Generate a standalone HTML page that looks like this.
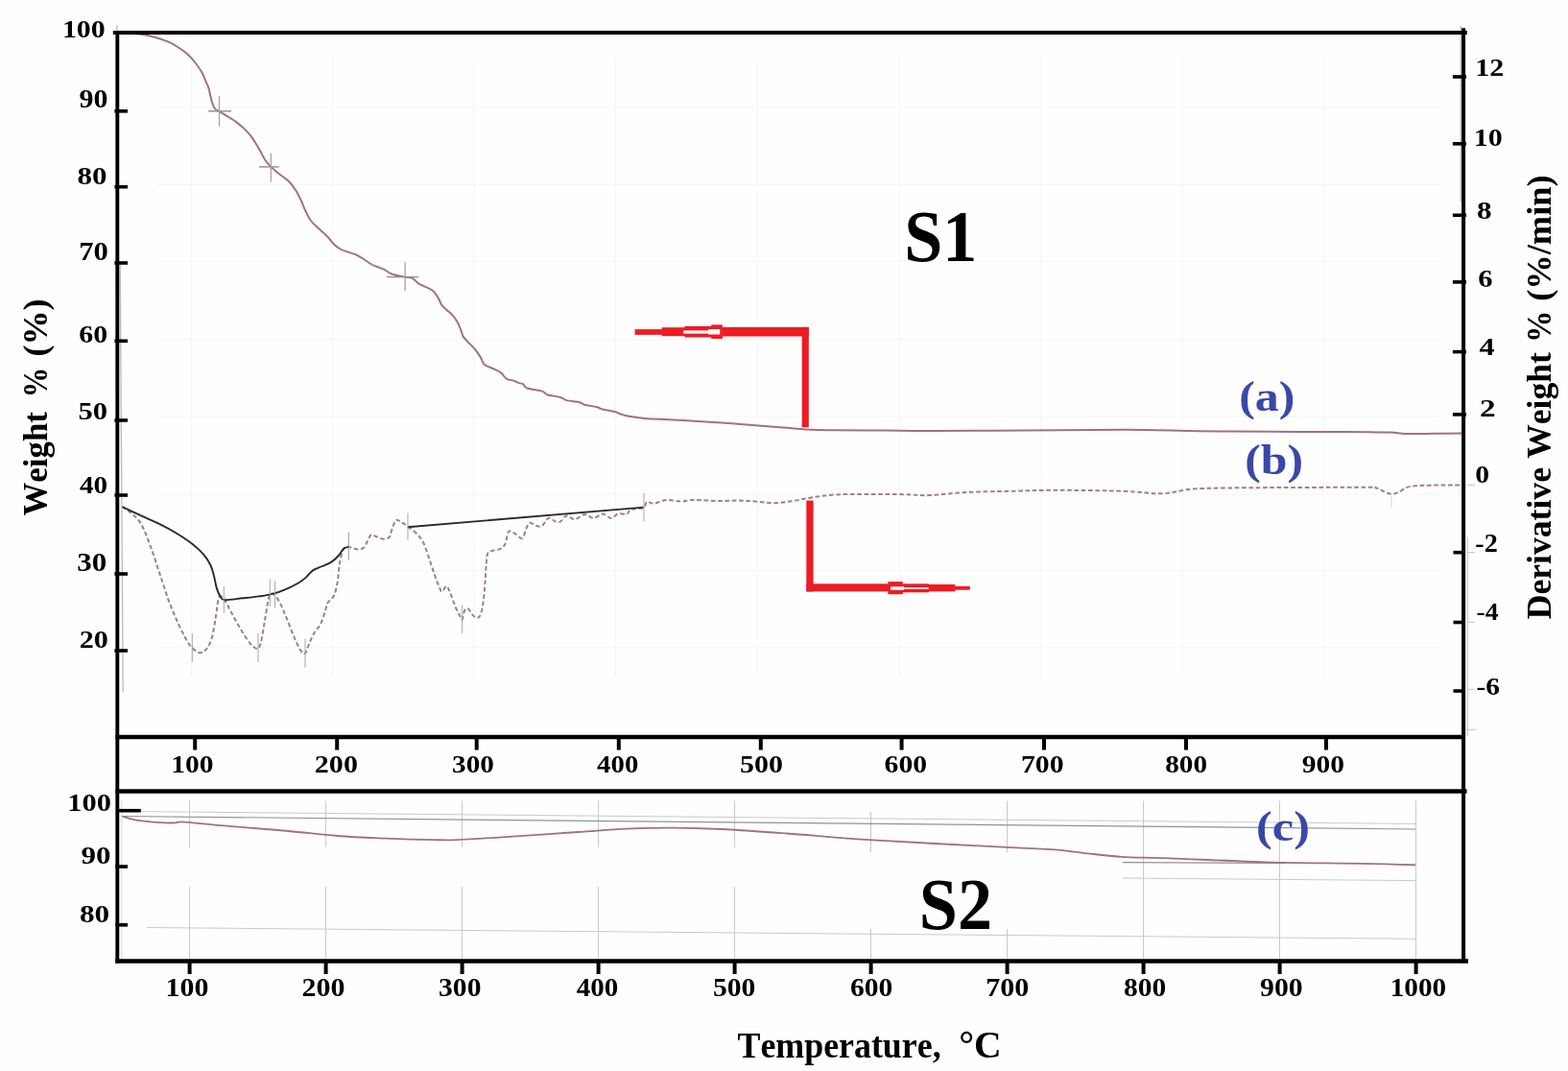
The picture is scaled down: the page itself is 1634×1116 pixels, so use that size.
<!DOCTYPE html>
<html lang="en"><head><meta charset="utf-8"><title>TGA / DTG curves of S1 and S2</title>
<style>html,body{margin:0;padding:0;background:#fff}body{width:1634px;height:1116px;overflow:hidden}svg{display:block}text{font-kerning:none;white-space:pre}</style></head><body>
<svg width="1634" height="1116" viewBox="0 0 1634 1116">
<rect width="1634" height="1116" fill="#fefefe"/>
<g stroke="#f5f5f7" stroke-width="1" fill="none">
<path d="M199.5 60V706"/>
<path d="M347 60V706"/>
<path d="M494 60V706"/>
<path d="M641.5 60V706"/>
<path d="M789.4 60V706"/>
<path d="M936.9 60V706"/>
<path d="M1084.4 60V706"/>
<path d="M1231.9 60V706"/>
<path d="M1379.4 60V706"/>
<path d="M165 112H1500"/>
<path d="M165 192.5H1500"/>
<path d="M165 272.2H1500"/>
<path d="M165 353.9H1500"/>
<path d="M165 434.3H1500"/>
<path d="M165 515.2H1500"/>
<path d="M165 594.7H1500"/>
<path d="M165 674.2H1500"/>
</g>
<g stroke="#c6cace" stroke-width="1" fill="none">
<path d="M197.5 834.5V882.5M197.5 924V999"/>
<path d="M339.5 834.5V882.5M339.5 924V999"/>
<path d="M481.5 834.5V882.5M481.5 924V999"/>
<path d="M623.5 834.5V882.5M623.5 924V999"/>
<path d="M765.5 834.5V882.5M765.5 924V999"/>
<path d="M907.5 846V888.4M907.5 968V999"/>
<path d="M1049.5 834.5V888.4M1049.5 968V999"/>
<path d="M1191.5 834.5V999"/>
<path d="M1333.5 834.5V999"/>
<path d="M1475.5 834.5V999"/>
<path stroke="#d6d8db" d="M126.8 834.5V999"/>
<path d="M153 966.5L1475 978.3"/>
<path d="M1170 915L1475 917.6"/>
<path d="M146.5 845.6L1475 858.4"/>
</g>
<g stroke="#8f9297" stroke-width="1.2" fill="none">
<path d="M127 850.5L1475 864"/>
<path d="M1169.8 898.6L1340 899.4"/>
</g>
<g fill="none" stroke="#a27279" stroke-linejoin="round">
<path stroke-width="2" d="M124.0 34.6C126.2 34.7 132.6 34.7 137.0 35.0C141.4 35.3 146.2 35.6 150.5 36.3C154.8 37.0 158.8 38.0 163.0 39.2C167.2 40.4 171.8 42.0 175.6 43.7C179.4 45.4 182.7 47.3 186.0 49.5C189.3 51.7 192.7 54.0 195.7 56.8C198.7 59.5 201.5 62.8 204.0 66.0C206.5 69.2 208.9 72.7 210.7 76.0C212.5 79.3 213.8 83.2 215.0 86.0C216.2 88.8 216.7 89.2 217.6 92.5C218.5 95.8 219.7 102.3 220.7 105.7C221.7 109.1 222.5 111.2 223.8 113.0C225.1 114.8 226.2 114.8 228.5 116.2C230.8 117.6 234.8 119.9 237.6 121.6C240.4 123.3 243.4 125.1 245.5 126.6C247.6 128.1 248.3 128.7 250.2 130.4C252.1 132.1 254.9 134.4 257.0 136.6C259.1 138.8 260.9 140.9 262.7 143.3C264.4 145.7 265.9 148.4 267.5 151.0C269.1 153.6 270.6 156.3 272.1 159.0C273.6 161.7 274.8 164.5 276.5 167.0C278.2 169.5 280.1 171.7 282.3 173.9C284.6 176.2 286.9 178.0 290.0 180.5C293.1 183.0 298.0 186.1 301.0 189.0C304.0 191.9 305.9 194.8 308.0 198.0C310.1 201.2 311.9 205.0 313.6 208.5C315.3 212.0 316.3 215.5 318.0 219.0C319.7 222.5 321.3 226.3 323.6 229.5C325.9 232.7 329.1 235.2 332.0 238.0C334.9 240.8 338.7 243.9 341.2 246.5C343.7 249.1 344.9 251.4 347.0 253.5C349.1 255.6 351.2 257.5 353.7 259.0C356.2 260.5 359.1 261.3 362.0 262.4C364.9 263.5 368.5 264.3 371.3 265.6C374.1 266.9 376.5 268.4 379.0 270.0C381.5 271.6 384.1 273.7 386.4 275.0C388.7 276.3 390.7 277.1 393.0 278.0C395.3 278.9 397.4 279.4 400.0 280.7C402.6 282.0 405.1 284.4 408.8 285.7C412.5 287.0 418.4 287.9 422.0 288.6C425.6 289.3 427.7 288.9 430.1 290.1C432.5 291.3 434.1 294.2 436.4 295.7C438.7 297.2 441.4 297.9 443.9 299.1C446.4 300.4 449.3 301.4 451.4 303.2C453.5 305.0 455.0 307.8 456.5 310.2C458.0 312.6 458.8 315.6 460.2 317.7C461.6 319.8 463.3 320.9 465.2 322.7C467.1 324.5 469.6 326.2 471.5 328.3C473.4 330.4 475.0 332.6 476.5 335.2C478.0 337.8 479.2 341.4 480.3 344.0C481.4 346.6 481.6 348.8 482.8 350.9C484.1 353.0 485.9 354.6 487.8 356.6C489.7 358.6 492.0 360.3 494.1 362.8C496.2 365.3 498.7 368.9 500.4 371.6C502.1 374.3 502.9 377.5 504.1 379.2C505.4 380.9 506.0 380.8 507.9 381.7C509.8 382.6 513.0 383.6 515.4 384.8C517.8 386.0 520.2 386.9 522.3 388.6C524.4 390.3 525.8 393.5 528.0 394.8C530.2 396.1 533.5 396.0 535.5 396.7C537.5 397.4 538.4 398.3 540.0 398.9C541.6 399.5 543.4 399.3 545.0 400.2C546.6 401.1 546.0 403.2 549.4 404.5C552.8 405.8 561.6 406.6 565.1 407.7C568.6 408.8 567.0 410.1 570.1 411.2C573.2 412.2 580.5 413.0 583.9 414.0C587.2 415.0 586.9 416.2 590.2 417.1C593.6 418.0 600.9 418.4 604.0 419.2C607.1 420.0 606.1 420.9 609.0 421.7C611.9 422.5 618.5 423.2 621.6 424.0C624.7 424.8 624.7 425.7 627.8 426.5C630.9 427.3 637.2 428.2 640.4 429.0C643.5 429.8 644.2 430.7 646.7 431.5C649.2 432.3 651.2 433.1 655.4 433.8C659.6 434.5 664.8 435.3 671.7 435.9C678.6 436.5 687.5 436.7 696.8 437.2C706.1 437.7 718.4 438.4 727.6 439.0C736.8 439.6 743.6 440.0 752.0 440.6C760.4 441.2 769.7 441.8 777.7 442.4C785.7 443.0 793.0 443.6 800.0 444.2C807.0 444.8 813.3 445.3 820.0 445.8C826.7 446.3 831.7 447.0 840.0 447.4C848.3 447.8 856.7 448.0 870.0 448.2C883.3 448.4 903.2 448.5 920.0 448.6C936.8 448.7 945.5 449.0 970.5 449.0C995.5 449.0 1036.6 448.7 1070.0 448.5C1103.4 448.3 1141.0 447.7 1171.0 447.8C1201.0 447.9 1224.9 448.9 1250.0 449.2C1275.1 449.5 1296.8 449.7 1321.8 449.8C1346.8 449.9 1379.1 449.9 1400.0 450.0C1420.9 450.1 1435.8 450.3 1447.0 450.6C1458.2 450.9 1459.0 451.8 1467.0 452.0C1475.0 452.2 1485.7 451.9 1495.0 451.8C1504.3 451.7 1518.3 451.5 1523.0 451.4"/>
<path stroke="#a07f86" stroke-width="2" stroke-dasharray="4.6 2.7" d="M126.9 527.9C128.8 529.2 134.8 532.6 138.2 535.8C141.6 539.0 144.5 541.4 147.6 547.0C150.7 552.6 153.8 561.1 157.0 569.6C160.2 578.1 163.3 588.5 166.5 597.9C169.7 607.3 172.8 617.6 175.9 626.1C179.0 634.6 182.2 641.8 185.3 648.7C188.4 655.6 192.2 663.1 194.7 667.5C197.2 671.9 198.1 672.9 200.3 675.0C202.5 677.1 205.4 680.1 207.9 680.3C210.4 680.5 213.2 678.8 215.4 676.0C217.6 673.2 219.4 669.2 221.0 663.7C222.6 658.2 223.7 649.6 224.8 643.0C225.9 636.4 226.7 627.8 227.6 624.2C228.5 620.6 229.4 621.2 230.5 621.4C231.6 621.6 232.3 622.2 234.2 625.2C236.1 628.2 238.9 634.1 241.7 639.3C244.5 644.5 248.0 651.0 251.2 656.2C254.3 661.4 257.8 667.0 260.6 670.3C263.4 673.6 266.2 676.1 268.1 676.0C270.0 675.9 270.6 673.9 271.9 669.4C273.1 664.9 274.4 655.9 275.6 648.7C276.9 641.5 278.3 631.1 279.4 626.1C280.5 621.1 280.9 619.5 282.2 618.6C283.4 617.7 285.2 618.6 286.9 620.5C288.6 622.4 290.7 626.1 292.6 629.9C294.5 633.6 296.0 637.7 298.2 643.0C300.4 648.3 303.2 656.1 305.7 661.9C308.2 667.7 311.2 674.8 313.3 677.9C315.4 681.0 316.4 682.1 318.0 680.7C319.6 679.3 321.0 673.2 322.7 669.4C324.4 665.6 326.4 661.2 328.3 658.1C330.2 655.0 332.3 654.1 334.0 650.6C335.7 647.1 337.4 641.2 338.7 637.4C339.9 633.6 339.9 630.8 341.5 628.0C343.1 625.2 346.4 624.3 348.1 620.5C349.8 616.7 351.0 610.7 351.9 605.4C352.8 600.1 352.9 593.5 353.7 588.5C354.5 583.5 355.5 578.4 356.6 575.3C357.7 572.1 358.7 570.4 360.3 569.6C361.9 568.8 363.8 570.1 366.0 570.6C368.2 571.1 371.3 572.5 373.5 572.5C375.7 572.5 377.6 572.0 379.2 570.6C380.8 569.2 381.6 566.2 382.9 564.0C384.1 561.8 385.1 558.2 386.7 557.4C388.3 556.6 390.1 558.6 392.3 559.3C394.5 560.0 397.6 561.7 399.9 561.7C402.2 561.7 404.7 560.9 406.0 559.5C407.3 558.1 406.8 556.3 407.9 553.4C409.0 550.5 410.9 543.7 412.6 542.1C414.3 540.5 416.2 542.9 418.2 544.0C420.2 545.1 422.3 546.8 424.8 548.7C427.3 550.6 430.6 552.6 433.3 555.3C436.0 558.0 438.6 560.6 440.8 564.7C443.0 568.8 444.6 574.5 446.5 579.8C448.4 585.1 450.2 591.4 452.1 596.7C454.0 602.0 456.4 608.5 457.8 611.8C459.2 615.1 459.4 616.7 460.6 616.5C461.9 616.3 463.9 610.6 465.3 610.8C466.7 610.9 467.4 613.8 469.0 617.4C470.6 621.0 473.0 628.4 474.7 632.5C476.4 636.6 478.2 639.7 479.4 641.9C480.6 644.1 480.9 646.5 481.7 645.6C482.5 644.7 483.1 638.1 484.1 636.2C485.1 634.3 486.5 633.5 487.9 634.3C489.3 635.1 491.0 639.3 492.6 640.9C494.2 642.5 495.9 643.9 497.3 643.8C498.7 643.6 499.9 643.1 501.0 640.0C502.1 636.9 503.1 631.2 503.9 624.9C504.7 618.6 505.3 609.2 505.8 602.3C506.3 595.4 506.6 587.9 507.1 583.5C507.6 579.1 507.4 577.7 508.6 576.0C509.8 574.3 512.0 574.2 514.2 573.5C516.4 572.8 519.8 572.9 521.8 571.8C523.8 570.6 525.1 569.6 526.5 566.6C527.9 563.6 528.5 555.5 530.2 553.8C531.9 552.1 534.4 555.0 536.8 556.2C539.1 557.4 542.4 561.7 544.3 560.9C546.2 560.1 546.8 554.2 548.1 551.5C549.4 548.8 550.0 545.5 551.9 544.9C553.8 544.3 557.2 547.6 559.4 548.1C561.6 548.6 563.0 549.2 565.0 547.8C567.0 546.4 569.4 540.7 571.6 539.9C573.8 539.1 576.2 542.5 578.2 543.1C580.2 543.7 581.9 544.6 583.9 543.6C585.9 542.6 587.9 537.8 590.4 537.4C592.9 537.0 595.8 541.4 598.9 541.2C602.0 541.0 606.0 536.3 609.3 536.1C612.6 535.9 615.6 540.0 618.7 539.9C621.8 539.8 625.1 535.5 628.1 535.5C631.1 535.5 633.9 539.9 636.6 539.9C639.3 539.9 641.3 536.2 644.1 535.5C646.9 534.8 651.3 536.3 653.5 535.5C655.7 534.7 654.5 531.8 657.3 530.8C660.1 529.8 667.6 530.6 670.4 529.3C673.2 528.0 672.3 523.6 674.2 522.9C676.1 522.1 678.4 525.1 681.7 524.8C685.0 524.5 689.5 521.4 694.2 521.0C698.9 520.6 705.2 522.5 710.0 522.5C714.8 522.5 716.7 521.1 723.2 521.0C729.7 520.9 741.2 521.9 749.0 522.0C756.8 522.1 763.5 521.4 770.0 521.5C776.5 521.6 781.5 522.1 787.7 522.6C793.9 523.1 800.5 524.3 807.0 524.2C813.5 524.1 820.0 523.0 826.5 522.0C833.0 521.0 838.3 519.5 845.8 518.4C853.3 517.3 861.7 516.0 871.6 515.4C881.5 514.8 893.2 515.0 905.0 515.0C916.8 515.0 932.0 515.0 942.6 515.2C953.2 515.4 957.7 516.5 968.4 516.1C979.1 515.7 991.7 513.8 1007.0 513.0C1022.3 512.2 1044.3 512.0 1060.0 511.6C1075.7 511.2 1082.5 510.8 1101.0 510.8C1119.5 510.8 1152.6 511.2 1171.0 511.8C1189.4 512.4 1198.8 514.7 1211.4 514.3C1224.0 513.9 1228.1 510.3 1246.5 509.3C1264.9 508.3 1292.5 508.4 1321.8 508.1C1351.0 507.9 1403.3 507.8 1422.0 507.8C1440.7 507.9 1430.7 507.7 1434.0 508.4C1437.3 509.1 1439.3 510.9 1442.0 512.0C1444.7 513.1 1447.3 514.7 1450.0 514.8C1452.7 514.9 1455.3 513.8 1458.0 512.6C1460.7 511.4 1463.2 508.9 1466.0 507.8C1468.8 506.8 1471.0 506.7 1475.0 506.3C1479.0 505.9 1482.1 505.9 1490.0 505.7C1497.9 505.5 1517.1 505.4 1522.5 505.4"/>
<path stroke-width="1.8" d="M127.2 850.5C129.4 851.1 134.5 853.2 140.5 854.3C146.5 855.3 156.4 856.3 163.1 856.8C169.8 857.3 176.5 857.6 180.7 857.5C184.9 857.4 184.8 856.3 188.2 856.3C191.5 856.3 194.5 856.7 200.8 857.3C207.1 857.9 217.4 859.0 225.8 859.8C234.2 860.5 238.5 860.8 251.0 861.8C263.5 862.8 284.3 864.5 301.0 866.0C317.7 867.5 334.6 869.7 351.3 871.0C368.0 872.3 384.7 872.9 401.4 873.6C418.1 874.3 439.1 874.9 451.6 875.1C464.2 875.4 464.1 875.6 476.7 875.1C489.2 874.6 506.0 873.5 526.9 872.1C547.8 870.8 581.1 868.4 602.0 867.0C622.9 865.6 635.5 864.3 652.3 863.6C669.0 862.9 685.8 862.5 702.5 862.6C719.2 862.7 733.0 863.0 752.6 864.0C772.2 865.0 793.8 866.6 820.0 868.5C846.2 870.4 871.5 873.0 909.7 875.4C947.9 877.8 1017.5 881.2 1049.0 882.9C1080.5 884.6 1085.7 884.4 1099.0 885.4C1112.3 886.4 1117.4 887.6 1129.0 888.8C1140.6 890.0 1153.9 891.9 1168.8 892.8C1183.7 893.7 1193.7 893.4 1218.6 894.3C1243.5 895.2 1284.8 897.4 1318.0 898.3C1351.2 899.2 1391.8 899.3 1418.0 899.8C1444.2 900.3 1465.5 901.0 1475.0 901.3"/>
</g>
<g fill="none" stroke="#2a2a2c" stroke-width="1.9">
<path d="M126.9 527.9C130.3 529.5 141.0 534.6 147.6 537.6C154.2 540.6 160.2 543.0 166.5 546.1C172.8 549.2 179.7 553.0 185.3 556.5C190.9 560.0 195.9 563.3 200.3 566.8C204.7 570.2 208.4 573.6 211.6 577.2C214.8 580.8 217.3 584.7 219.2 588.5C221.1 592.3 221.8 595.7 222.9 599.8C224.0 603.9 224.7 609.3 225.8 612.9C226.9 616.5 228.1 619.3 229.5 621.4C230.9 623.5 230.3 624.9 234.2 625.2C238.1 625.5 247.0 623.9 253.0 623.3C259.0 622.7 264.7 622.2 270.0 621.4C275.3 620.6 280.3 619.9 285.0 618.6C289.7 617.4 293.8 615.8 298.2 613.9C302.6 612.0 307.9 609.3 311.4 607.3C314.8 605.2 316.4 603.8 318.9 601.6C321.4 599.4 323.6 596.0 326.4 594.1C329.2 592.2 332.8 591.4 335.9 590.0C339.0 588.6 342.5 587.4 345.3 585.6C348.1 583.8 350.6 581.4 352.8 579.0C355.0 576.6 356.7 573.0 358.4 571.5C360.1 570.0 362.4 570.2 363.2 570.0"/>
<path d="M424.8 549.3L671 528.6"/>
</g>
<g stroke="#a9a3a6" stroke-width="1" fill="none">
<path d="M200.3 660V690"/>
<path d="M233.3 611V639"/>
<path d="M269 660V690"/>
<path d="M281.3 603.5V631.8"/>
<path d="M286.6 605.4V633.6"/>
<path d="M318 665.6V695.7"/>
<path d="M363.5 554.6V583.8"/>
<path d="M425 534.6V562.8"/>
<path d="M481.7 630.6V659.7"/>
<path d="M671 513.9V543"/>
<path stroke="#8e8a8c" stroke-width="1.4" d="M217.2 115.8H241"/><path stroke-width="1.3" d="M228.5 100.3V131.6"/>
<path stroke="#8e8a8c" stroke-width="1.4" d="M270 173.9H290.7"/><path stroke-width="1.3" d="M282.3 159.4V189.5"/>
<path stroke="#8e8a8c" stroke-width="1.4" d="M403.1 288.6H436"/><path stroke-width="1.3" d="M422.2 273.1V303.3"/>
<path stroke="#bcbcbe" stroke-width="1.3" d="M125.2 275L128.2 721"/>
<path stroke="#d9d3d5" d="M1450 517V529"/>
<path d="M121.8 26.5V32"/>
<path stroke="#b9b9bb" stroke-width="1.2" d="M1522.2 27V210"/>
<path stroke="#c6c6c8" stroke-width="1" d="M1529.4 560V767M1529 648.5H1537M1529 718.3H1536M1527 760.2H1538M1529 575.5H1537M1529 505.4H1537"/>
</g>
<g fill="#ed1c24">
<rect x="752.80" y="340.90" width="90.00" height="9.60" fill="#ed1c24"/>
<rect x="835.70" y="340.90" width="7.10" height="104.40" fill="#ed1c24"/>
<rect x="741.20" y="338.40" width="11.70" height="14.60" fill="#ed1c24"/>
<rect x="713.50" y="339.90" width="28.50" height="11.60" fill="#ed1c24"/>
<rect x="689.80" y="341.20" width="24.50" height="9.00" fill="#ed1c24"/>
<rect x="661.60" y="343.10" width="28.40" height="5.80" fill="#ed1c24"/>
<rect x="738.00" y="343.10" width="12.20" height="5.40" fill="#fff"/>
<rect x="712.30" y="344.40" width="26.70" height="3.20" fill="#fff"/>
<rect x="840.30" y="521.60" width="7.30" height="94.80" fill="#ed1c24"/>
<rect x="840.30" y="608.30" width="86.40" height="8.10" fill="#ed1c24"/>
<rect x="925.40" y="606.10" width="15.40" height="13.10" fill="#ed1c24"/>
<rect x="940.00" y="608.30" width="28.00" height="9.00" fill="#ed1c24"/>
<rect x="967.80" y="609.00" width="27.60" height="7.40" fill="#ed1c24"/>
<rect x="992.90" y="610.90" width="17.90" height="3.80" fill="#ed1c24"/>
<rect x="928.00" y="611.30" width="14.00" height="3.40" fill="#fff"/>
<rect x="941.40" y="612.20" width="26.40" height="1.60" fill="#fff"/>
</g>
<g stroke="#000" fill="none">
<line x1="122.3" y1="32" x2="122.3" y2="1003.5" stroke="#000" stroke-width="3.9" />
<line x1="117.8" y1="34" x2="1528.8" y2="34" stroke="#000" stroke-width="4.1" />
<line x1="1525.1" y1="29.3" x2="1525.1" y2="1003.5" stroke="#000" stroke-width="4.0" />
<line x1="120.4" y1="768" x2="1526.5" y2="768" stroke="#000" stroke-width="4.5" />
<line x1="120.4" y1="824.5" x2="1528.5" y2="824.5" stroke="#000" stroke-width="4.5" />
<line x1="120.3" y1="1001.6" x2="1530" y2="1001.6" stroke="#000" stroke-width="4.5" />
<line x1="119.4" y1="115.8" x2="133" y2="115.8" stroke="#000" stroke-width="3.6" />
<line x1="119.4" y1="194.7" x2="133" y2="194.7" stroke="#000" stroke-width="3.6" />
<line x1="119.4" y1="274" x2="133" y2="274" stroke="#000" stroke-width="3.6" />
<line x1="119.4" y1="355.3" x2="133" y2="355.3" stroke="#000" stroke-width="3.6" />
<line x1="119.4" y1="438" x2="133" y2="438" stroke="#000" stroke-width="3.6" />
<line x1="119.4" y1="516" x2="133" y2="516" stroke="#000" stroke-width="3.6" />
<line x1="119.4" y1="598" x2="133" y2="598" stroke="#000" stroke-width="3.6" />
<line x1="119.4" y1="678" x2="133" y2="678" stroke="#000" stroke-width="3.6" />
<line x1="120.4" y1="903.0" x2="133" y2="903.0" stroke="#000" stroke-width="3.6" />
<line x1="120.4" y1="963.8" x2="133" y2="963.8" stroke="#000" stroke-width="3.6" />
<line x1="122" y1="844.7" x2="146.8" y2="844.7" stroke="#000" stroke-width="3.6" />
<line x1="1513.9" y1="80" x2="1528" y2="80" stroke="#000" stroke-width="3.6" />
<line x1="1513.9" y1="149.8" x2="1528" y2="149.8" stroke="#000" stroke-width="3.6" />
<line x1="1513.9" y1="224.3" x2="1528" y2="224.3" stroke="#000" stroke-width="3.6" />
<line x1="1513.9" y1="293.9" x2="1528" y2="293.9" stroke="#000" stroke-width="3.6" />
<line x1="1513.9" y1="366.6" x2="1528" y2="366.6" stroke="#000" stroke-width="3.6" />
<line x1="1513.9" y1="431.9" x2="1528" y2="431.9" stroke="#000" stroke-width="3.6" />
<line x1="1514.5" y1="575.7" x2="1526" y2="575.7" stroke="#000" stroke-width="3.6" />
<line x1="1514.5" y1="648.5" x2="1526" y2="648.5" stroke="#000" stroke-width="3.6" />
<line x1="1514.5" y1="720" x2="1526" y2="720" stroke="#000" stroke-width="3.6" />
<line x1="203.2" y1="768" x2="203.2" y2="781.5" stroke="#000" stroke-width="4" />
<line x1="351.2" y1="768" x2="351.2" y2="781.5" stroke="#000" stroke-width="4" />
<line x1="496.7" y1="768" x2="496.7" y2="781.5" stroke="#000" stroke-width="4" />
<line x1="644.8" y1="768" x2="644.8" y2="781.5" stroke="#000" stroke-width="4" />
<line x1="792.8" y1="768" x2="792.8" y2="781.5" stroke="#000" stroke-width="4" />
<line x1="939.6" y1="768" x2="939.6" y2="781.5" stroke="#000" stroke-width="4" />
<line x1="1088" y1="768" x2="1088" y2="781.5" stroke="#000" stroke-width="4" />
<line x1="1236" y1="768" x2="1236" y2="781.5" stroke="#000" stroke-width="4" />
<line x1="1382" y1="768" x2="1382" y2="781.5" stroke="#000" stroke-width="4" />
<line x1="197.6" y1="1001" x2="197.6" y2="1015" stroke="#000" stroke-width="4" />
<line x1="339.6" y1="1001" x2="339.6" y2="1015" stroke="#000" stroke-width="4" />
<line x1="481.6" y1="1001" x2="481.6" y2="1015" stroke="#000" stroke-width="4" />
<line x1="623.6" y1="1001" x2="623.6" y2="1015" stroke="#000" stroke-width="4" />
<line x1="765.6" y1="1001" x2="765.6" y2="1015" stroke="#000" stroke-width="4" />
<line x1="907.6" y1="1001" x2="907.6" y2="1015" stroke="#000" stroke-width="4" />
<line x1="1049.6" y1="1001" x2="1049.6" y2="1015" stroke="#000" stroke-width="4" />
<line x1="1191.6" y1="1001" x2="1191.6" y2="1015" stroke="#000" stroke-width="4" />
<line x1="1333.6" y1="1001" x2="1333.6" y2="1015" stroke="#000" stroke-width="4" />
<line x1="1475.6" y1="1001" x2="1475.6" y2="1015" stroke="#000" stroke-width="4" />
</g>
<text transform="translate(64.91 38.74) scale(1.1395 1)" font-size="26.23" fill="#000" font-family="'Liberation Serif', serif" font-weight="bold" >100</text>
<text transform="translate(82.48 111.94) scale(1.1358 1)" font-size="26.38" fill="#000" font-family="'Liberation Serif', serif" font-weight="bold" >90</text>
<text transform="translate(80.57 192.45) scale(1.2310 1)" font-size="25.19" fill="#000" font-family="'Liberation Serif', serif" font-weight="bold" >80</text>
<text transform="translate(82.25 271.24) scale(1.1477 1)" font-size="26.67" fill="#000" font-family="'Liberation Serif', serif" font-weight="bold" >70</text>
<text transform="translate(82.28 357.05) scale(1.1783 1)" font-size="25.34" fill="#000" font-family="'Liberation Serif', serif" font-weight="bold" >60</text>
<text transform="translate(81.58 436.55) scale(1.1796 1)" font-size="25.93" fill="#000" font-family="'Liberation Serif', serif" font-weight="bold" >50</text>
<text transform="translate(82.90 513.85) scale(1.1528 1)" font-size="25.34" fill="#000" font-family="'Liberation Serif', serif" font-weight="bold" >40</text>
<text transform="translate(80.24 594.54) scale(1.1665 1)" font-size="26.53" fill="#000" font-family="'Liberation Serif', serif" font-weight="bold" >30</text>
<text transform="translate(82.74 674.95) scale(1.1952 1)" font-size="25.19" fill="#000" font-family="'Liberation Serif', serif" font-weight="bold" >20</text>
<text transform="translate(70.27 845.26) scale(1.2430 1)" font-size="24.45" fill="#000" font-family="'Liberation Serif', serif" font-weight="bold" >100</text>
<text transform="translate(84.45 900.46) scale(1.2802 1)" font-size="24.16" fill="#000" font-family="'Liberation Serif', serif" font-weight="bold" >90</text>
<text transform="translate(82.96 961.16) scale(1.2543 1)" font-size="24.90" fill="#000" font-family="'Liberation Serif', serif" font-weight="bold" >80</text>
<text transform="translate(1537.19 79.00) scale(1.1864 1)" font-size="25.37" fill="#000" font-family="'Liberation Serif', serif" font-weight="bold" >12</text>
<text transform="translate(1535.79 151.56) scale(1.2071 1)" font-size="24.90" fill="#000" font-family="'Liberation Serif', serif" font-weight="bold" >10</text>
<text transform="translate(1538.97 227.65) scale(1.2287 1)" font-size="25.34" fill="#000" font-family="'Liberation Serif', serif" font-weight="bold" >8</text>
<text transform="translate(1540.36 299.35) scale(1.2042 1)" font-size="25.30" fill="#000" font-family="'Liberation Serif', serif" font-weight="bold" >6</text>
<text transform="translate(1541.56 370.00) scale(1.2271 1)" font-size="26.13" fill="#000" font-family="'Liberation Serif', serif" font-weight="bold" >4</text>
<text transform="translate(1542.00 434.40) scale(1.3104 1)" font-size="25.37" fill="#000" font-family="'Liberation Serif', serif" font-weight="bold" >2</text>
<text transform="translate(1537.27 502.75) scale(1.1664 1)" font-size="25.49" fill="#000" font-family="'Liberation Serif', serif" font-weight="bold" >0</text>
<text transform="translate(1537.36 575.20) scale(1.0636 1)" font-size="26.58" fill="#000" font-family="'Liberation Serif', serif" font-weight="bold" >-2</text>
<text transform="translate(1538.59 646.20) scale(1.0652 1)" font-size="25.83" fill="#000" font-family="'Liberation Serif', serif" font-weight="bold" >-4</text>
<text transform="translate(1538.52 723.54) scale(1.1247 1)" font-size="26.20" fill="#000" font-family="'Liberation Serif', serif" font-weight="bold" >-6</text>
<text transform="translate(178.34 805.25) scale(1.1321 1)" font-size="26.08" fill="#000" font-family="'Liberation Serif', serif" font-weight="bold" >100</text>
<text transform="translate(327.84 805.25) scale(1.1530 1)" font-size="26.08" fill="#000" font-family="'Liberation Serif', serif" font-weight="bold" >200</text>
<text transform="translate(471.00 805.25) scale(1.1225 1)" font-size="26.08" fill="#000" font-family="'Liberation Serif', serif" font-weight="bold" >300</text>
<text transform="translate(622.11 805.25) scale(1.1066 1)" font-size="26.08" fill="#000" font-family="'Liberation Serif', serif" font-weight="bold" >400</text>
<text transform="translate(771.00 805.25) scale(1.1487 1)" font-size="26.08" fill="#000" font-family="'Liberation Serif', serif" font-weight="bold" >500</text>
<text transform="translate(921.58 805.25) scale(1.1386 1)" font-size="26.08" fill="#000" font-family="'Liberation Serif', serif" font-weight="bold" >600</text>
<text transform="translate(1063.90 805.25) scale(1.1436 1)" font-size="26.08" fill="#000" font-family="'Liberation Serif', serif" font-weight="bold" >700</text>
<text transform="translate(1214.13 805.25) scale(1.1244 1)" font-size="26.08" fill="#000" font-family="'Liberation Serif', serif" font-weight="bold" >800</text>
<text transform="translate(1356.79 805.25) scale(1.1332 1)" font-size="26.08" fill="#000" font-family="'Liberation Serif', serif" font-weight="bold" >900</text>
<text transform="translate(172.50 1037.74) scale(1.1108 1)" font-size="26.97" fill="#000" font-family="'Liberation Serif', serif" font-weight="bold" >100</text>
<text transform="translate(314.44 1037.74) scale(1.1124 1)" font-size="26.97" fill="#000" font-family="'Liberation Serif', serif" font-weight="bold" >200</text>
<text transform="translate(457.09 1037.74) scale(1.0959 1)" font-size="26.97" fill="#000" font-family="'Liberation Serif', serif" font-weight="bold" >300</text>
<text transform="translate(600.80 1037.74) scale(1.0778 1)" font-size="26.97" fill="#000" font-family="'Liberation Serif', serif" font-weight="bold" >400</text>
<text transform="translate(743.01 1037.74) scale(1.0978 1)" font-size="26.97" fill="#000" font-family="'Liberation Serif', serif" font-weight="bold" >500</text>
<text transform="translate(885.89 1037.74) scale(1.0959 1)" font-size="26.97" fill="#000" font-family="'Liberation Serif', serif" font-weight="bold" >600</text>
<text transform="translate(1027.18 1037.74) scale(1.1138 1)" font-size="26.97" fill="#000" font-family="'Liberation Serif', serif" font-weight="bold" >700</text>
<text transform="translate(1170.92 1037.74) scale(1.0952 1)" font-size="26.97" fill="#000" font-family="'Liberation Serif', serif" font-weight="bold" >800</text>
<text transform="translate(1313.09 1037.74) scale(1.1036 1)" font-size="26.97" fill="#000" font-family="'Liberation Serif', serif" font-weight="bold" >900</text>
<text transform="translate(1448.76 1037.74) scale(1.0836 1)" font-size="26.97" fill="#000" font-family="'Liberation Serif', serif" font-weight="bold" >1000</text>
<text transform="translate(942.16 272.16) scale(0.9464 1)" font-size="76.20" fill="#000" font-family="'Liberation Serif', serif" font-weight="bold" >S1</text>
<text transform="translate(957.86 968.26) scale(0.9586 1)" font-size="75.31" fill="#000" font-family="'Liberation Serif', serif" font-weight="bold" >S2</text>
<text transform="translate(1291.21 428.46) scale(1.1369 1)" font-size="43.89" fill="#3b47a8" font-family="'Liberation Serif', serif" font-weight="bold" >(a)</text>
<text transform="translate(1297.21 493.94) scale(1.1188 1)" font-size="44.45" fill="#3b47a8" font-family="'Liberation Serif', serif" font-weight="bold" >(b)</text>
<text transform="translate(1309.09 876.08) scale(1.1487 1)" font-size="43.78" fill="#3b47a8" font-family="'Liberation Serif', serif" font-weight="bold" >(c)</text>
<text transform="translate(768.54 1102.40) scale(0.9430 1)" font-size="38.03" fill="#000" font-family="'Liberation Serif', serif" font-weight="bold" >Temperature,</text>
<text transform="translate(999.20 1102.01) scale(0.9917 1)" font-size="40.01" fill="#000" font-family="'Liberation Serif', serif" font-weight="bold" >°C</text>
<text transform="translate(49.00 537.49) rotate(-90) scale(0.9792 1)" font-size="35.60" fill="#000" font-family="'Liberation Serif', serif" font-weight="bold">Weight</text>
<text transform="translate(49.00 414.24) rotate(-90) scale(0.8877 1)" font-size="35.60" fill="#000" font-family="'Liberation Serif', serif" font-weight="bold">%</text>
<text transform="translate(49.00 371.48) rotate(-90) scale(1.0128 1)" font-size="35.60" fill="#000" font-family="'Liberation Serif', serif" font-weight="bold">(%)</text>
<text transform="translate(1616.00 645.23) rotate(-90) scale(0.9895 1)" font-size="36.00" fill="#000" font-family="'Liberation Serif', serif" font-weight="bold">Derivative</text>
<text transform="translate(1616.00 477.70) rotate(-90) scale(0.9863 1)" font-size="36.00" fill="#000" font-family="'Liberation Serif', serif" font-weight="bold">Weight</text>
<text transform="translate(1616.00 357.03) rotate(-90) scale(0.9297 1)" font-size="36.00" fill="#000" font-family="'Liberation Serif', serif" font-weight="bold">%</text>
<text transform="translate(1616.00 313.80) rotate(-90) scale(1.0116 1)" font-size="36.00" fill="#000" font-family="'Liberation Serif', serif" font-weight="bold">(%/min)</text>
</svg></body></html>
